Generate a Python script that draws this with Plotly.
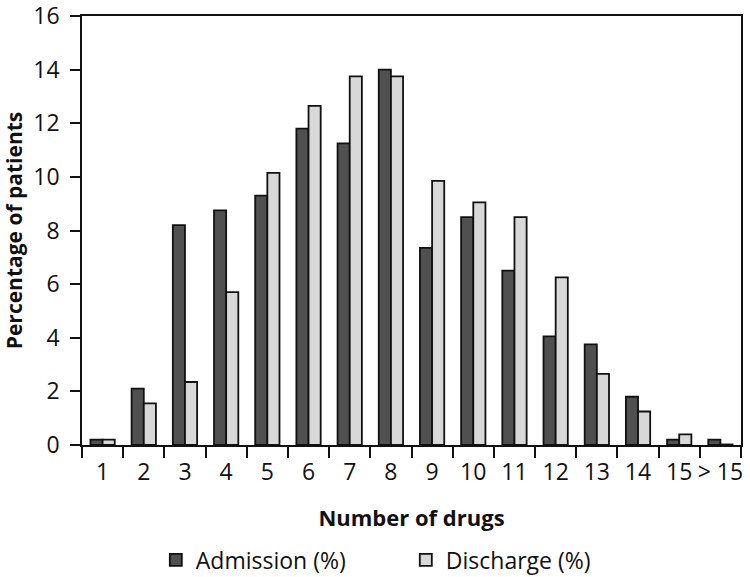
import plotly.graph_objects as go

categories = ["1", "2", "3", "4", "5", "6", "7", "8", "9", "10", "11", "12", "13", "14", "15", "> 15"]
admission = [0.2, 2.1, 8.2, 8.75, 9.3, 11.8, 11.25, 14.0, 7.35, 8.5, 6.5, 4.05, 3.75, 1.8, 0.2, 0.2]
discharge = [0.2, 1.55, 2.35, 5.7, 10.15, 12.65, 13.75, 13.75, 9.85, 9.05, 8.5, 6.25, 2.65, 1.25, 0.4, 0.02]

FONT = "Open Sans"

fig = go.Figure()
fig.add_trace(go.Bar(x=categories, y=admission, name="Admission (%)",
                     marker=dict(color="#505050", line=dict(color="#111111", width=1.8))))
fig.add_trace(go.Bar(x=categories, y=discharge, name="Discharge (%)",
                     marker=dict(color="#d8d8d8", line=dict(color="#111111", width=1.8))))

fig.update_layout(
    width=750, height=577,
    margin=dict(l=82, r=9, t=16, b=132, autoexpand=False),
    paper_bgcolor="white", plot_bgcolor="white",
    barmode="group", bargap=0.41, bargroupgap=0,
    font=dict(family=FONT, size=23, color="#111111"),
    showlegend=True,
    legend=dict(orientation="h", x=0.112, xanchor="left", y=-0.268, yanchor="middle",
                entrywidth=205, entrywidthmode="pixels",
                font=dict(family=FONT, size=23, color="#111111")),
    xaxis=dict(
        type="category", tickson="boundaries", ticks="outside", ticklen=11, tickwidth=1.5,
        tickcolor="#111111", showline=True, linecolor="#111111", linewidth=1.5, mirror=True,
        showgrid=False, tickangle=0, automargin=False, ticklabelstandoff=6,
        ticklabeloverflow="allow",
        tickfont=dict(family=FONT, size=23),
        title=dict(text="<b>Number of drugs</b>", font=dict(family=FONT, size=22), standoff=24),
    ),
    yaxis=dict(
        range=[0, 16], dtick=2, ticks="outside", ticklen=10, tickwidth=1.5, tickcolor="#111111",
        showline=True, linecolor="#111111", linewidth=1.5, mirror=True, showgrid=False,
        zeroline=False, automargin=False, ticklabelstandoff=6,
        ticklabeloverflow="allow",
        tickfont=dict(family=FONT, size=23),
        title=dict(text="<b>Percentage of patients</b>", font=dict(family=FONT, size=21), standoff=16),
    ),
)

fig.write_html("out.html", config={"displayModeBar": False},
               post_script="document.body.style.margin='0';")
